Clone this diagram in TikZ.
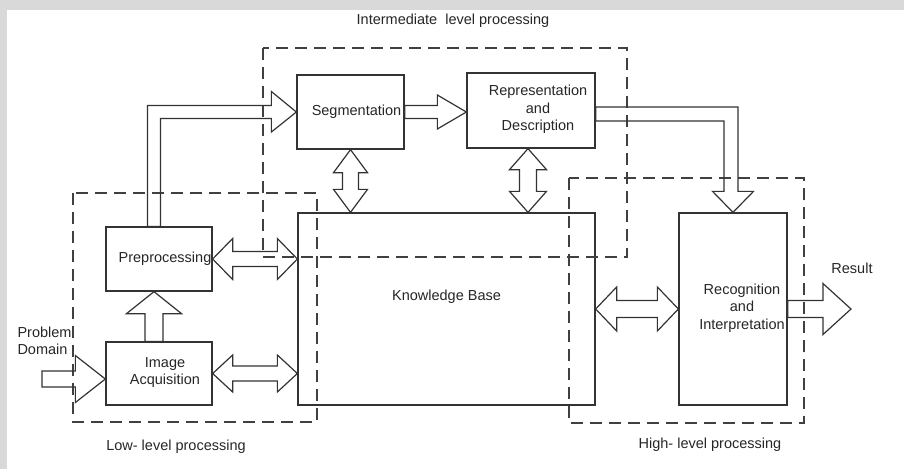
\documentclass[tikz,border=0pt]{standalone}
\usepackage{fontspec}
\setsansfont{Liberation Sans}
\usetikzlibrary{calc}

\tikzset{
  box/.style={draw=black!80, line width=1.3pt},
  region/.style={draw=black!75, line width=1.4pt, dash pattern=on 12pt off 7pt},
  blockarrow/.style={draw=black!80, line width=1.2pt},
  txt/.style={font=\sffamily\fontsize{14.5}{17.5}\selectfont, text=black!85, align=center, inner sep=0pt},
}

% horizontal double arrow: left tip, right tip, shaft, head, head length
\newcommand{\hdarrow}[5]{%
  \draw[blockarrow] let \p1=(#1), \p2=(#2) in
    (\p1) -- (\x1+#5pt,\y1+#4pt) -- (\x1+#5pt,\y1+#3pt) -- (\x2-#5pt,\y1+#3pt)
    -- (\x2-#5pt,\y1+#4pt) -- (\x2,\y1) -- (\x2-#5pt,\y1-#4pt) -- (\x2-#5pt,\y1-#3pt)
    -- (\x1+#5pt,\y1-#3pt) -- (\x1+#5pt,\y1-#4pt) -- cycle;}
% vertical double arrow: top tip, bottom tip
\newcommand{\vdarrow}[5]{%
  \draw[blockarrow] let \p1=(#1), \p2=(#2) in
    (\p1) -- (\x1+#4pt,\y1-#5pt) -- (\x1+#3pt,\y1-#5pt) -- (\x1+#3pt,\y2+#5pt)
    -- (\x1+#4pt,\y2+#5pt) -- (\x1,\y2) -- (\x1-#4pt,\y2+#5pt) -- (\x1-#3pt,\y2+#5pt)
    -- (\x1-#3pt,\y1-#5pt) -- (\x1-#4pt,\y1-#5pt) -- cycle;}
% single arrow to the right: tail, tip
\newcommand{\hsarrow}[5]{%
  \draw[blockarrow] let \p1=(#1), \p2=(#2) in
    (\x1,\y1+#3pt) -- (\x2-#5pt,\y1+#3pt) -- (\x2-#5pt,\y1+#4pt) -- (\x2,\y1)
    -- (\x2-#5pt,\y1-#4pt) -- (\x2-#5pt,\y1-#3pt) -- (\x1,\y1-#3pt) -- cycle;}
% single arrow upwards: tail, tip
\newcommand{\vsarrow}[5]{%
  \draw[blockarrow] let \p1=(#1), \p2=(#2) in
    (\x1+#3pt,\y1) -- (\x1+#3pt,\y2-#5pt) -- (\x1+#4pt,\y2-#5pt) -- (\x1,\y2)
    -- (\x1-#4pt,\y2-#5pt) -- (\x1-#3pt,\y2-#5pt) -- (\x1-#3pt,\y1) -- cycle;}

\begin{document}
\begin{tikzpicture}[x=1pt,y=-1pt]
    \useasboundingbox (0,0) rectangle (904,469);
    \fill[black!15] (0,0) rectangle (904,10);
    \fill[black!15] (0,0) rectangle (7,469);

    % processing blocks
    \node[box, minimum width=106, minimum height=64] (pre) at (159,259) {};
    \node[box, minimum width=106, minimum height=63] (img) at (159,373.5) {};
    \node[box, minimum width=107, minimum height=74] (seg) at (350.5,112) {};
    \node[box, minimum width=128, minimum height=75] (rep) at (531,110.5) {};
    \node[box, minimum width=297, minimum height=192] (kb) at (446.5,309) {};
    \node[box, minimum width=108, minimum height=192] (rec) at (733,309) {};

    \node[txt] (pretext) at ([xshift=6pt]pre.center) {Preprocessing};
    \node[txt] (imgtext) at ([xshift=6pt,yshift=1pt]img.center) {Image\\Acquisition};
    \node[txt] (segtext) at ([xshift=6pt]seg.center) {Segmentation};
    \node[txt] (reptext) at ([xshift=7pt,yshift=1pt]rep.center) {Representation\\and\\Description};
    \node[txt] (kbtext) at ([yshift=12pt]kb.center) {Knowledge Base};
    \node[txt] (rectext) at ([xshift=9pt,yshift=1pt]rec.center) {Recognition\\and\\Interpretation};

    % levels
    \draw[region] (73,193) rectangle (317,422);
    \draw[region] (263,48) rectangle (627,257);
    \draw[region] (569,178) rectangle (804,423);
    \node[txt] (lowlabel) at (176,447) {Low- level processing};
    \node[txt] (midlabel) at (453,21) {Intermediate\ \ level processing};
    \node[txt] (highlabel) at (710,445) {High- level processing};

    \node[txt, align=left] (problem) at (44.5,341) {Problem\\Domain};
    \node[txt] (result) at (852,268) {Result};
    \coordinate (pdtail) at (42,379);
    \coordinate (restip) at (851,310);

    % block arrows
    \hsarrow{pdtail}{img.west}{8}{23.5}{30}
    \vsarrow{[xshift=-5pt]img.north}{pre.south}{9}{27.5}{22}
    \hdarrow{pre.east}{kb.west}{7.5}{20.5}{20}
    \hdarrow{img.east}{kb.west}{7.5}{18.5}{20}
    \hsarrow{seg.east}{rep.west}{6.5}{17}{29}
    \vdarrow{seg.south}{kb.north}{8}{17}{23}
    \vdarrow{[xshift=-3pt]rep.south}{kb.north}{8.5}{18.5}{21}
    \hdarrow{kb.east}{rec.west}{8.5}{22}{21}
    \hsarrow{rec.east}{restip}{8.5}{25.5}{28}
    \draw[blockarrow] ([xshift=-11.5pt]pre.north) |- ($(seg.west)+(-25,-6.5)$) -- ++(0,-14)
        -- (seg.west) -- ($(seg.west)+(-25,20)$) -- ++(0,-13.5) -| ([xshift=1.5pt]pre.north) -- cycle;
    \draw[blockarrow] ($(rep.east)+(0,-3.5)$) -| ($(rec.north)+(5,-21)$) -- ++(15.5,0)
        -- (rec.north) -- ++(-20.5,-21) -- ++(11.5,0) |- ($(rep.east)+(0,10.5)$) -- cycle;
\end{tikzpicture}
\end{document}
